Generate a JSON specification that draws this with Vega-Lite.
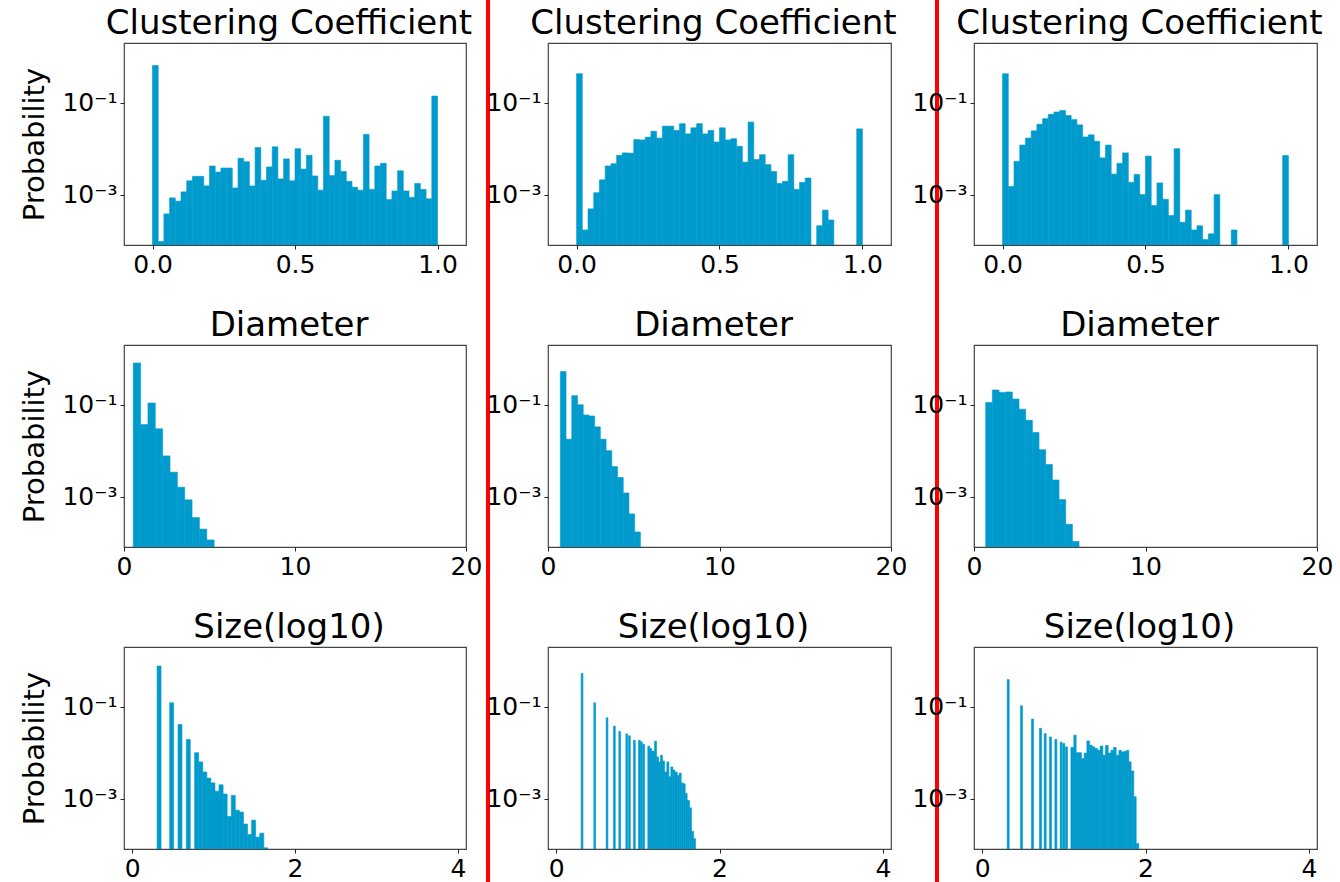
{
  "$schema": "https://vega.github.io/schema/vega-lite/v6.json",
  "padding": {"left": 20, "top": 0, "right": 0, "bottom": 0},
  "background": "white",
  "columns": 9,
  "spacing": {"row": 0, "column": 0},
  "bounds": "flush",
  "align": "each",
  "datasets": {
    "cc1": [
      {"b":0,"e":0.02,"p":0.65},{"b":0.02,"e":0.04,"p":9.5e-5},{"b":0.04,"e":0.06,"p":3.8e-4},{"b":0.06,"e":0.08,"p":8.5e-4},{"b":0.08,"e":0.1,"p":7.2e-4},
      {"b":0.1,"e":0.12,"p":1.15e-3},{"b":0.12,"e":0.14,"p":2.0e-3},{"b":0.14,"e":0.16,"p":2.5e-3},{"b":0.16,"e":0.18,"p":2.5e-3},{"b":0.18,"e":0.2,"p":1.55e-3},
      {"b":0.2,"e":0.22,"p":4.2e-3},{"b":0.22,"e":0.24,"p":3.1e-3},{"b":0.24,"e":0.26,"p":3.8e-3},{"b":0.26,"e":0.28,"p":3.8e-3},{"b":0.28,"e":0.3,"p":1.4e-3},
      {"b":0.3,"e":0.32,"p":6.2e-3},{"b":0.32,"e":0.34,"p":5.2e-3},{"b":0.34,"e":0.36,"p":1.55e-3},{"b":0.36,"e":0.38,"p":1.06e-2},{"b":0.38,"e":0.4,"p":2.05e-3},
      {"b":0.4,"e":0.42,"p":4.0e-3},{"b":0.42,"e":0.44,"p":1.1e-2},{"b":0.44,"e":0.46,"p":2.2e-3},{"b":0.46,"e":0.48,"p":6.0e-3},{"b":0.48,"e":0.5,"p":2.0e-3},
      {"b":0.5,"e":0.52,"p":1.0e-2},{"b":0.52,"e":0.54,"p":3.6e-3},{"b":0.54,"e":0.56,"p":7.2e-3},{"b":0.56,"e":0.58,"p":2.55e-3},{"b":0.58,"e":0.6,"p":1.25e-3},
      {"b":0.6,"e":0.62,"p":5.1e-2},{"b":0.62,"e":0.64,"p":2.6e-3},{"b":0.64,"e":0.66,"p":5.6e-3},{"b":0.66,"e":0.68,"p":3.2e-3},{"b":0.68,"e":0.7,"p":1.95e-3},
      {"b":0.7,"e":0.72,"p":1.45e-3},{"b":0.72,"e":0.74,"p":1.25e-3},{"b":0.74,"e":0.76,"p":2.05e-2},{"b":0.76,"e":0.78,"p":1.3e-3},{"b":0.78,"e":0.8,"p":4.2e-3},
      {"b":0.8,"e":0.82,"p":4.8e-3},{"b":0.82,"e":0.84,"p":7.8e-4},{"b":0.84,"e":0.86,"p":1.2e-3},{"b":0.86,"e":0.88,"p":3.3e-3},{"b":0.88,"e":0.9,"p":1.2e-3},
      {"b":0.9,"e":0.92,"p":8.7e-4},{"b":0.92,"e":0.94,"p":1.75e-3},{"b":0.94,"e":0.96,"p":1.3e-3},{"b":0.96,"e":0.98,"p":8.1e-4},{"b":0.98,"e":1.0,"p":0.14}
    ],
    "cc2": [
      {"b":0,"e":0.02,"p":0.43},{"b":0.02,"e":0.04,"p":1.7e-4},{"b":0.04,"e":0.06,"p":4.9e-4},{"b":0.06,"e":0.08,"p":1.1e-3},{"b":0.08,"e":0.1,"p":2.1e-3},
      {"b":0.1,"e":0.12,"p":4.2e-3},{"b":0.12,"e":0.14,"p":4.7e-3},{"b":0.14,"e":0.16,"p":7.2e-3},{"b":0.16,"e":0.18,"p":8.1e-3},{"b":0.18,"e":0.2,"p":8.0e-3},
      {"b":0.2,"e":0.22,"p":1.58e-2},{"b":0.22,"e":0.24,"p":1.55e-2},{"b":0.24,"e":0.26,"p":1.78e-2},{"b":0.26,"e":0.28,"p":2.4e-2},{"b":0.28,"e":0.3,"p":1.7e-2},
      {"b":0.3,"e":0.32,"p":3.1e-2},{"b":0.32,"e":0.34,"p":3.1e-2},{"b":0.34,"e":0.36,"p":2.5e-2},{"b":0.36,"e":0.38,"p":3.5e-2},{"b":0.38,"e":0.4,"p":2.1e-2},
      {"b":0.4,"e":0.42,"p":2.85e-2},{"b":0.42,"e":0.44,"p":3.5e-2},{"b":0.44,"e":0.46,"p":2.1e-2},{"b":0.46,"e":0.48,"p":2.5e-2},{"b":0.48,"e":0.5,"p":1.4e-2},
      {"b":0.5,"e":0.52,"p":2.85e-2},{"b":0.52,"e":0.54,"p":1.55e-2},{"b":0.54,"e":0.56,"p":1.65e-2},{"b":0.56,"e":0.58,"p":1.13e-2},{"b":0.58,"e":0.6,"p":5.1e-3},
      {"b":0.6,"e":0.62,"p":3.8e-2},{"b":0.62,"e":0.64,"p":5.8e-3},{"b":0.64,"e":0.66,"p":7.4e-3},{"b":0.66,"e":0.68,"p":4.5e-3},{"b":0.68,"e":0.7,"p":3.2e-3},
      {"b":0.7,"e":0.72,"p":1.75e-3},{"b":0.72,"e":0.74,"p":1.95e-3},{"b":0.74,"e":0.76,"p":7.4e-3},{"b":0.76,"e":0.78,"p":1.3e-3},{"b":0.78,"e":0.8,"p":1.85e-3},
      {"b":0.8,"e":0.82,"p":2.3e-3},{"b":0.84,"e":0.86,"p":2.1e-4},{"b":0.86,"e":0.88,"p":4.6e-4},{"b":0.88,"e":0.9,"p":2.8e-4},{"b":0.98,"e":1.0,"p":2.7e-2}
    ],
    "cc3": [
      {"b":0,"e":0.02,"p":0.43},{"b":0.02,"e":0.04,"p":1.5e-3},{"b":0.04,"e":0.06,"p":5.3e-3},{"b":0.06,"e":0.08,"p":1.2e-2},{"b":0.08,"e":0.1,"p":1.7e-2},
      {"b":0.1,"e":0.12,"p":2.45e-2},{"b":0.12,"e":0.14,"p":3.4e-2},{"b":0.14,"e":0.16,"p":4.5e-2},{"b":0.16,"e":0.18,"p":5.6e-2},{"b":0.18,"e":0.2,"p":6.3e-2},
      {"b":0.2,"e":0.22,"p":6.8e-2},{"b":0.22,"e":0.24,"p":5.3e-2},{"b":0.24,"e":0.26,"p":4.3e-2},{"b":0.26,"e":0.28,"p":3.3e-2},{"b":0.28,"e":0.3,"p":1.8e-2},
      {"b":0.3,"e":0.32,"p":2.0e-2},{"b":0.32,"e":0.34,"p":1.45e-2},{"b":0.34,"e":0.36,"p":6.3e-3},{"b":0.36,"e":0.38,"p":1.2e-2},{"b":0.38,"e":0.4,"p":2.8e-3},
      {"b":0.4,"e":0.42,"p":4.8e-3},{"b":0.42,"e":0.44,"p":8.1e-3},{"b":0.44,"e":0.46,"p":1.85e-3},{"b":0.46,"e":0.48,"p":2.75e-3},{"b":0.48,"e":0.5,"p":1.0e-3},
      {"b":0.5,"e":0.52,"p":6.9e-3},{"b":0.52,"e":0.54,"p":5.8e-4},{"b":0.54,"e":0.56,"p":1.8e-3},{"b":0.56,"e":0.58,"p":7.9e-4},{"b":0.58,"e":0.6,"p":3.5e-4},
      {"b":0.6,"e":0.62,"p":1.0e-2},{"b":0.62,"e":0.64,"p":2.5e-4},{"b":0.64,"e":0.66,"p":4.6e-4},{"b":0.66,"e":0.68,"p":1.7e-4},{"b":0.68,"e":0.7,"p":2.1e-4},
      {"b":0.7,"e":0.72,"p":1.05e-4},{"b":0.72,"e":0.74,"p":1.4e-4},{"b":0.74,"e":0.76,"p":1.0e-3},{"b":0.8,"e":0.82,"p":1.7e-4},{"b":0.98,"e":1.0,"p":7.1e-3}
    ],
    "d1": [
      {"b":0.54,"e":0.97,"p":0.81},{"b":0.97,"e":1.4,"p":3.7e-2},{"b":1.4,"e":1.83,"p":0.109},{"b":1.83,"e":2.26,"p":3.0e-2},{"b":2.26,"e":2.69,"p":7.7e-3},
      {"b":2.69,"e":3.12,"p":3.4e-3},{"b":3.12,"e":3.55,"p":1.6e-3},{"b":3.55,"e":3.98,"p":8.5e-4},{"b":3.98,"e":4.41,"p":3.5e-4},{"b":4.41,"e":4.84,"p":1.96e-4},
      {"b":4.84,"e":5.27,"p":1.14e-4}
    ],
    "d2": [
      {"b":0.72,"e":1.053,"p":0.53},{"b":1.053,"e":1.387,"p":1.78e-2},{"b":1.387,"e":1.72,"p":0.158},{"b":1.72,"e":2.053,"p":0.1},{"b":2.053,"e":2.387,"p":6.0e-2},
      {"b":2.387,"e":2.72,"p":5.7e-2},{"b":2.72,"e":3.053,"p":3.3e-2},{"b":3.053,"e":3.387,"p":1.78e-2},{"b":3.387,"e":3.72,"p":1.0e-2},{"b":3.72,"e":4.053,"p":4.5e-3},
      {"b":4.053,"e":4.387,"p":2.6e-3},{"b":4.387,"e":4.72,"p":1.2e-3},{"b":4.72,"e":5.053,"p":4.2e-4},{"b":5.053,"e":5.387,"p":1.7e-4}
    ],
    "d3": [
      {"b":0.68,"e":1.069,"p":0.112},{"b":1.069,"e":1.458,"p":0.21},{"b":1.458,"e":1.847,"p":0.186},{"b":1.847,"e":2.236,"p":0.19},{"b":2.236,"e":2.625,"p":0.133},
      {"b":2.625,"e":3.014,"p":8.0e-2},{"b":3.014,"e":3.403,"p":4.6e-2},{"b":3.403,"e":3.792,"p":2.5e-2},{"b":3.792,"e":4.181,"p":1.05e-2},{"b":4.181,"e":4.57,"p":5.0e-3},
      {"b":4.57,"e":4.959,"p":2.3e-3},{"b":4.959,"e":5.348,"p":8.6e-4},{"b":5.348,"e":5.737,"p":2.5e-4},{"b":5.737,"e":6.126,"p":1.06e-4}
    ],
    "s1": [
      {"b":0.306,"e":0.355,"p":0.77},{"b":0.461,"e":0.51,"p":0.122},{"b":0.563,"e":0.612,"p":0.041},{"b":0.665,"e":0.714,"p":0.0194},
      {"b":0.767,"e":0.817,"p":1.0e-2},{"b":0.817,"e":0.867,"p":6.3e-3},{"b":0.867,"e":0.917,"p":3.8e-3},{"b":0.917,"e":0.967,"p":2.8e-3},{"b":0.967,"e":1.017,"p":2.2e-3},
      {"b":1.017,"e":1.067,"p":1.45e-3},{"b":1.067,"e":1.117,"p":2.0e-3},{"b":1.117,"e":1.167,"p":1.26e-3},{"b":1.167,"e":1.217,"p":4.1e-4},{"b":1.217,"e":1.267,"p":1.18e-3},
      {"b":1.267,"e":1.317,"p":5.6e-4},{"b":1.317,"e":1.367,"p":5.1e-4},{"b":1.367,"e":1.417,"p":2.8e-4},{"b":1.417,"e":1.467,"p":1.66e-4},{"b":1.467,"e":1.517,"p":3.4e-4},
      {"b":1.517,"e":1.567,"p":1.45e-4},{"b":1.567,"e":1.617,"p":1.77e-4},{"b":1.617,"e":1.667,"p":8.5e-5}
    ],
    "s2": [
      {"b":0.306,"e":0.328,"p":0.533},{"b":0.461,"e":0.483,"p":0.122},{"b":0.612,"e":0.634,"p":0.0575},{"b":0.702,"e":0.724,"p":0.038},{"b":0.767,"e":0.789,"p":0.029},
      {"b":0.853,"e":0.875,"p":0.0257},{"b":0.886,"e":0.908,"p":0.0233},{"b":0.947,"e":0.969,"p":0.0187},{"b":1.008,"e":1.03,"p":0.0187},{"b":1.033,"e":1.055,"p":0.0172},
      {"b":1.061,"e":1.083,"p":0.0153},{"b":1.122,"e":1.147,"p":0.0139},{"b":1.147,"e":1.171,"p":0.0123},{"b":1.171,"e":1.204,"p":0.0108},{"b":1.204,"e":1.229,"p":0.0178},
      {"b":1.229,"e":1.253,"p":0.0081},{"b":1.253,"e":1.278,"p":0.0063},{"b":1.278,"e":1.302,"p":0.0088},{"b":1.302,"e":1.327,"p":0.0066},{"b":1.327,"e":1.355,"p":0.0038},
      {"b":1.355,"e":1.38,"p":0.0063},{"b":1.38,"e":1.404,"p":0.003},{"b":1.404,"e":1.429,"p":0.0049},{"b":1.429,"e":1.453,"p":0.0042},{"b":1.453,"e":1.482,"p":0.0038},
      {"b":1.482,"e":1.506,"p":0.0032},{"b":1.506,"e":1.531,"p":0.0036},{"b":1.531,"e":1.555,"p":0.0022},{"b":1.555,"e":1.58,"p":0.0021},{"b":1.58,"e":1.604,"p":0.0013},
      {"b":1.604,"e":1.633,"p":9.1e-4},{"b":1.633,"e":1.657,"p":6.3e-4},{"b":1.657,"e":1.682,"p":1.95e-4},{"b":1.682,"e":1.706,"p":1.35e-4}
    ],
    "s3": [
      {"b":0.306,"e":0.331,"p":0.39},{"b":0.469,"e":0.494,"p":0.105},{"b":0.604,"e":0.629,"p":0.054},{"b":0.702,"e":0.727,"p":0.034},{"b":0.759,"e":0.784,"p":0.026},
      {"b":0.824,"e":0.849,"p":0.022},{"b":0.89,"e":0.915,"p":0.0195},{"b":0.955,"e":0.98,"p":0.017},{"b":0.988,"e":1.013,"p":0.0158},{"b":1.02,"e":1.045,"p":0.0134},
      {"b":1.086,"e":1.122,"p":0.013},{"b":1.122,"e":1.151,"p":0.024},{"b":1.151,"e":1.184,"p":0.01},{"b":1.184,"e":1.216,"p":0.01},{"b":1.216,"e":1.249,"p":0.0074},
      {"b":1.249,"e":1.282,"p":0.0098},{"b":1.282,"e":1.314,"p":0.018},{"b":1.314,"e":1.347,"p":0.0146},{"b":1.347,"e":1.38,"p":0.0134},{"b":1.38,"e":1.412,"p":0.0123},
      {"b":1.412,"e":1.445,"p":0.0113},{"b":1.445,"e":1.478,"p":0.014},{"b":1.478,"e":1.51,"p":0.0088},{"b":1.51,"e":1.543,"p":0.0143},{"b":1.543,"e":1.576,"p":0.0098},
      {"b":1.576,"e":1.608,"p":0.0113},{"b":1.608,"e":1.641,"p":0.013},{"b":1.641,"e":1.674,"p":0.0088},{"b":1.674,"e":1.706,"p":0.0113},{"b":1.706,"e":1.739,"p":0.0104},
      {"b":1.739,"e":1.771,"p":0.0108},{"b":1.771,"e":1.796,"p":0.0113},{"b":1.796,"e":1.824,"p":0.0063},{"b":1.824,"e":1.857,"p":0.004},{"b":1.857,"e":1.886,"p":0.0011},
      {"b":1.886,"e":1.918,"p":1.05e-4}
    ]
  },
  "concat": [
    {"width": 1, "height": 43, "data": {"values": []}, "mark": "point", "encoding": {}, "view": {"stroke": null}},
    {"width": 1, "height": 43, "data": {"values": []}, "mark": "point", "encoding": {}, "view": {"stroke": null}},
    {"width": 4, "height": 43, "data": {"values": []}, "mark": "point", "encoding": {}, "view": {"stroke": null, "fill": "#ff0000"}},
    {"width": 1, "height": 43, "data": {"values": []}, "mark": "point", "encoding": {}, "view": {"stroke": null}},
    {"width": 1, "height": 43, "data": {"values": []}, "mark": "point", "encoding": {}, "view": {"stroke": null}},
    {"width": 1, "height": 43, "data": {"values": []}, "mark": "point", "encoding": {}, "view": {"stroke": null}},
    {"width": 4, "height": 43, "data": {"values": []}, "mark": "point", "encoding": {}, "view": {"stroke": null, "fill": "#ff0000"}},
    {"width": 1, "height": 43, "data": {"values": []}, "mark": "point", "encoding": {}, "view": {"stroke": null}},
    {"width": 1, "height": 43, "data": {"values": []}, "mark": "point", "encoding": {}, "view": {"stroke": null}},

    {"width": 342, "height": 202, "title": "Clustering Coefficient", "data": {"name": "cc1"}, "mark": {"type": "bar", "clip": true},
     "encoding": {"x": {"field": "b", "type": "quantitative", "scale": {"domain": [-0.1, 1.1], "nice": false, "zero": false}, "axis": {"values": [0, 0.5, 1], "format": ".1f", "title": null}},
      "x2": {"field": "e"},
      "y": {"field": "p", "type": "quantitative", "scale": {"type": "log", "domain": [8e-5, 2], "nice": false}, "axis": {"values": [0.001, 0.1], "labelExpr": "datum.value > 0.01 ? '10⁻¹' : '10⁻³'", "title": "Probability"}},
      "y2": {"datum": 8e-5}}},
    {"width": 20, "height": 1, "data": {"values": []}, "mark": "point", "encoding": {}, "view": {"stroke": null}},
    {"width": 4, "height": 302, "data": {"values": []}, "mark": "point", "encoding": {}, "view": {"stroke": null, "fill": "#ff0000"}},
    {"width": 58, "height": 1, "data": {"values": []}, "mark": "point", "encoding": {}, "view": {"stroke": null}},
    {"width": 343, "height": 202, "title": "Clustering Coefficient", "data": {"name": "cc2"}, "mark": {"type": "bar", "clip": true},
     "encoding": {"x": {"field": "b", "type": "quantitative", "scale": {"domain": [-0.1, 1.1], "nice": false, "zero": false}, "axis": {"values": [0, 0.5, 1], "format": ".1f", "title": null}},
      "x2": {"field": "e"},
      "y": {"field": "p", "type": "quantitative", "scale": {"type": "log", "domain": [8e-5, 2], "nice": false}, "axis": {"values": [0.001, 0.1], "labelExpr": "datum.value > 0.01 ? '10⁻¹' : '10⁻³'", "title": null}},
      "y2": {"datum": 8e-5}}},
    {"width": 44, "height": 1, "data": {"values": []}, "mark": "point", "encoding": {}, "view": {"stroke": null}},
    {"width": 4, "height": 302, "data": {"values": []}, "mark": "point", "encoding": {}, "view": {"stroke": null, "fill": "#ff0000"}},
    {"width": 35, "height": 1, "data": {"values": []}, "mark": "point", "encoding": {}, "view": {"stroke": null}},
    {"width": 343, "height": 202, "title": "Clustering Coefficient", "data": {"name": "cc3"}, "mark": {"type": "bar", "clip": true},
     "encoding": {"x": {"field": "b", "type": "quantitative", "scale": {"domain": [-0.1, 1.1], "nice": false, "zero": false}, "axis": {"values": [0, 0.5, 1], "format": ".1f", "title": null}},
      "x2": {"field": "e"},
      "y": {"field": "p", "type": "quantitative", "scale": {"type": "log", "domain": [8e-5, 2], "nice": false}, "axis": {"values": [0.001, 0.1], "labelExpr": "datum.value > 0.01 ? '10⁻¹' : '10⁻³'", "title": null}},
      "y2": {"datum": 8e-5}}},

    {"width": 342, "height": 202, "title": "Diameter", "data": {"name": "d1"}, "mark": {"type": "bar", "clip": true},
     "encoding": {"x": {"field": "b", "type": "quantitative", "scale": {"domain": [0, 20], "nice": false, "zero": false}, "axis": {"values": [0, 10, 20], "title": null}},
      "x2": {"field": "e"},
      "y": {"field": "p", "type": "quantitative", "scale": {"type": "log", "domain": [8e-5, 2], "nice": false}, "axis": {"values": [0.001, 0.1], "labelExpr": "datum.value > 0.01 ? '10⁻¹' : '10⁻³'", "title": "Probability"}},
      "y2": {"datum": 8e-5}}},
    {"width": 20, "height": 1, "data": {"values": []}, "mark": "point", "encoding": {}, "view": {"stroke": null}},
    {"width": 4, "height": 302, "data": {"values": []}, "mark": "point", "encoding": {}, "view": {"stroke": null, "fill": "#ff0000"}},
    {"width": 58, "height": 1, "data": {"values": []}, "mark": "point", "encoding": {}, "view": {"stroke": null}},
    {"width": 343, "height": 202, "title": "Diameter", "data": {"name": "d2"}, "mark": {"type": "bar", "clip": true},
     "encoding": {"x": {"field": "b", "type": "quantitative", "scale": {"domain": [0, 20], "nice": false, "zero": false}, "axis": {"values": [0, 10, 20], "title": null}},
      "x2": {"field": "e"},
      "y": {"field": "p", "type": "quantitative", "scale": {"type": "log", "domain": [8e-5, 2], "nice": false}, "axis": {"values": [0.001, 0.1], "labelExpr": "datum.value > 0.01 ? '10⁻¹' : '10⁻³'", "title": null}},
      "y2": {"datum": 8e-5}}},
    {"width": 44, "height": 1, "data": {"values": []}, "mark": "point", "encoding": {}, "view": {"stroke": null}},
    {"width": 4, "height": 302, "data": {"values": []}, "mark": "point", "encoding": {}, "view": {"stroke": null, "fill": "#ff0000"}},
    {"width": 35, "height": 1, "data": {"values": []}, "mark": "point", "encoding": {}, "view": {"stroke": null}},
    {"width": 343, "height": 202, "title": "Diameter", "data": {"name": "d3"}, "mark": {"type": "bar", "clip": true},
     "encoding": {"x": {"field": "b", "type": "quantitative", "scale": {"domain": [0, 20], "nice": false, "zero": false}, "axis": {"values": [0, 10, 20], "title": null}},
      "x2": {"field": "e"},
      "y": {"field": "p", "type": "quantitative", "scale": {"type": "log", "domain": [8e-5, 2], "nice": false}, "axis": {"values": [0.001, 0.1], "labelExpr": "datum.value > 0.01 ? '10⁻¹' : '10⁻³'", "title": null}},
      "y2": {"datum": 8e-5}}},

    {"width": 342, "height": 202, "title": "Size(log10)", "data": {"name": "s1"}, "mark": {"type": "bar", "clip": true},
     "encoding": {"x": {"field": "b", "type": "quantitative", "scale": {"domain": [-0.1, 4.1], "nice": false, "zero": false}, "axis": {"values": [0, 2, 4], "title": null}},
      "x2": {"field": "e"},
      "y": {"field": "p", "type": "quantitative", "scale": {"type": "log", "domain": [8e-5, 2], "nice": false}, "axis": {"values": [0.001, 0.1], "labelExpr": "datum.value > 0.01 ? '10⁻¹' : '10⁻³'", "title": "Probability"}},
      "y2": {"datum": 8e-5}}},
    {"width": 20, "height": 1, "data": {"values": []}, "mark": "point", "encoding": {}, "view": {"stroke": null}},
    {"width": 4, "height": 235, "data": {"values": []}, "mark": "point", "encoding": {}, "view": {"stroke": null, "fill": "#ff0000"}},
    {"width": 58, "height": 1, "data": {"values": []}, "mark": "point", "encoding": {}, "view": {"stroke": null}},
    {"width": 343, "height": 202, "title": "Size(log10)", "data": {"name": "s2"}, "mark": {"type": "bar", "clip": true},
     "encoding": {"x": {"field": "b", "type": "quantitative", "scale": {"domain": [-0.1, 4.1], "nice": false, "zero": false}, "axis": {"values": [0, 2, 4], "title": null}},
      "x2": {"field": "e"},
      "y": {"field": "p", "type": "quantitative", "scale": {"type": "log", "domain": [8e-5, 2], "nice": false}, "axis": {"values": [0.001, 0.1], "labelExpr": "datum.value > 0.01 ? '10⁻¹' : '10⁻³'", "title": null}},
      "y2": {"datum": 8e-5}}},
    {"width": 44, "height": 1, "data": {"values": []}, "mark": "point", "encoding": {}, "view": {"stroke": null}},
    {"width": 4, "height": 235, "data": {"values": []}, "mark": "point", "encoding": {}, "view": {"stroke": null, "fill": "#ff0000"}},
    {"width": 35, "height": 1, "data": {"values": []}, "mark": "point", "encoding": {}, "view": {"stroke": null}},
    {"width": 343, "height": 202, "title": "Size(log10)", "data": {"name": "s3"}, "mark": {"type": "bar", "clip": true},
     "encoding": {"x": {"field": "b", "type": "quantitative", "scale": {"domain": [-0.1, 4.1], "nice": false, "zero": false}, "axis": {"values": [0, 2, 4], "title": null}},
      "x2": {"field": "e"},
      "y": {"field": "p", "type": "quantitative", "scale": {"type": "log", "domain": [8e-5, 2], "nice": false}, "axis": {"values": [0.001, 0.1], "labelExpr": "datum.value > 0.01 ? '10⁻¹' : '10⁻³'", "title": null}},
      "y2": {"datum": 8e-5}}}
  ],
  "config": {
    "font": "DejaVu Sans",
    "view": {"stroke": "#444444", "strokeWidth": 1.2},
    "bar": {"color": "#009bcc", "stroke": "#009bcc", "strokeWidth": 0.6},
    "axis": {"domain": false, "grid": false, "labelFont": "DejaVu Sans", "labelFontSize": 25, "labelColor": "#000000", "tickColor": "#222222", "tickSize": 4, "labelPadding": 3, "labelFlush": false, "labelOverlap": false, "titleFont": "DejaVu Sans", "titleFontSize": 29, "titleFontWeight": "normal", "titleColor": "#000000", "titlePadding": 12},
    "title": {"font": "DejaVu Sans", "fontSize": 34, "fontWeight": "normal", "color": "#000000", "anchor": "middle", "offset": 2, "dx": -6}
  }
}
